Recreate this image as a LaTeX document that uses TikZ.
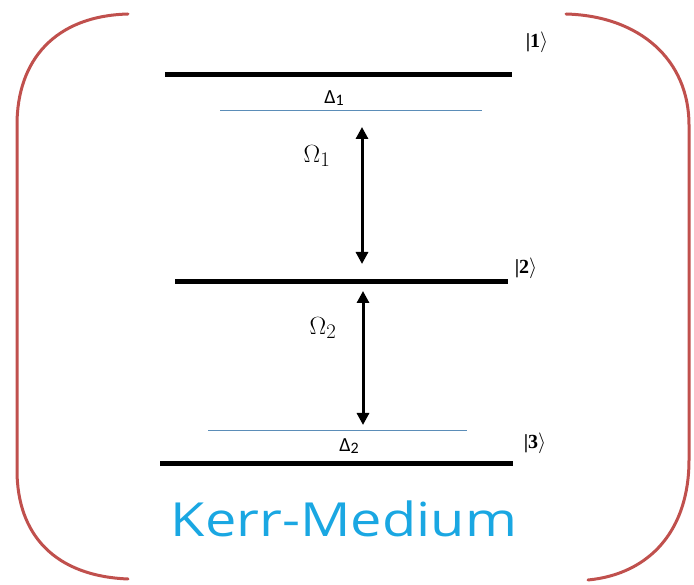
\documentclass[tikz,border=0pt]{standalone}
\usepackage{fontspec}
\setmainfont{Liberation Serif}
\newfontfamily\carl{Carlito}
\newfontfamily\opsans{Open Sans}
\usetikzlibrary{arrows.meta}
\definecolor{brk}{HTML}{C0504D}
\definecolor{detun}{HTML}{5B8DB8}
\definecolor{kerr}{HTML}{1AA7E2}
\tikzset{
  level/.style={line width=5pt, black},
  detline/.style={line width=0.9pt, detun},
  trans/.style={line width=3pt, {Triangle[length=12pt,width=12pt]}-{Triangle[length=12pt,width=12pt]}},
  bracket/.style={line width=3pt, brk, line cap=round},
  ket/.style={font=\bfseries\fontsize{20}{20}\selectfont, inner sep=0pt},
  rabi/.style={font=\fontsize{28}{28}\selectfont, inner sep=0pt},
  dlab/.style={font=\carl\fontsize{20}{20}\selectfont, inner sep=0pt},
}
\newcommand{\dsub}[1]{Δ\raisebox{-2.5pt}{\fontsize{16}{16}\selectfont #1}}
\begin{document}
\begin{tikzpicture}[x=1pt,y=-1pt]
\useasboundingbox (0,0) rectangle (694,585);
% brackets
\draw[bracket] (128,14) .. controls (55,16) and (17,60) .. (17,125)
  -- (17,470) .. controls (17,535) and (55,576) .. (128,579);
\draw[bracket] (566,14) .. controls (640,16) and (689,60) .. (689,125)
  -- (689,460) .. controls (689,530) and (650,574) .. (588,580);
% levels
\coordinate (l1a) at (165,75); \coordinate (l1b) at (512,75);
\coordinate (l2a) at (175,282); \coordinate (l2b) at (508,282);
\coordinate (l3a) at (160,463); \coordinate (l3b) at (513,463);
\draw[level] (l1a) -- (l1b);
\draw[level] (l2a) -- (l2b);
\draw[level] (l3a) -- (l3b);
\node[ket] (k1) at (537,42) {|1$\rangle$};
\node[ket] (k2) at (526,268) {|2$\rangle$};
\node[ket] (k3) at (535,443) {|3$\rangle$};
% detunings
\coordinate (d1a) at (220,110); \coordinate (d1b) at (482,110);
\coordinate (d2a) at (208,430); \coordinate (d2b) at (467,430);
\draw[detline] (d1a) -- (d1b);
\draw[detline] (d2a) -- (d2b);
\node[dlab] (D1) at (334,98) {\dsub{1}};
\node[dlab] (D2) at (349,446) {\dsub{2}};
% transitions
\coordinate (t1a) at (362,127); \coordinate (t1b) at (362,264);
\coordinate (t2a) at (363,291); \coordinate (t2b) at (363,425);
\draw[trans] (t1a) -- (t1b);
\draw[trans] (t2a) -- (t2b);
\node[rabi] (O1) at (317,156) {$\Omega_1$};
\node[rabi] (O2) at (323,328) {$\Omega_2$};
% label
\node[font=\opsans\fontsize{47}{47}\selectfont, text=kerr, inner sep=0pt] (km) at (344,519) {\scalebox{1.19}[1]{Kerr-Medium}};
\end{tikzpicture}
\end{document}
